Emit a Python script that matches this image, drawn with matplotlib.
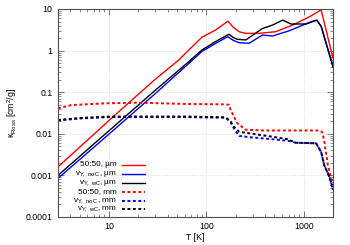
import matplotlib
matplotlib.use("Agg")
import matplotlib.pyplot as plt
from matplotlib.lines import Line2D
from matplotlib.ticker import FixedLocator, LogLocator, NullFormatter, FuncFormatter

plt.rcParams['font.family'] = ['Liberation Sans', 'DejaVu Sans']
plt.rcParams['mathtext.fontset'] = 'custom'
plt.rcParams['mathtext.rm'] = 'Liberation Sans'
plt.rcParams['mathtext.it'] = 'Liberation Sans:italic'
plt.rcParams['mathtext.bf'] = 'Liberation Sans:bold'

# ---- data ----
T_red_um = [3, 11.5, 30, 52, 66, 90, 124, 167, 190, 217, 254, 348, 518, 770, 1145, 1510, 2000]
k_red_um = [0.0016, 0.028, 0.206, 0.59, 1.03, 2.09, 3.1, 5.1, 3.6, 2.85, 2.6, 2.6, 2.85, 4.1, 6.5, 9.5, 0.66]

T_blue_um = [3, 10, 30, 66, 90, 124, 166, 190, 217, 275, 377, 478, 711, 1190, 1362, 1514, 2000]
k_blue_um = [0.00085, 0.0098, 0.093, 0.49, 0.95, 1.48, 2.16, 1.75, 1.55, 1.5, 2.37, 2.24, 3.0, 4.95, 5.4, 3.8, 0.41]

T_black_um = [3, 10, 30, 66, 90, 124, 171, 190, 208, 254, 377, 478, 607, 741, 1059, 1362, 1514, 2000]
k_black_um = [0.001, 0.0118, 0.112, 0.54, 1.03, 1.64, 2.47, 2.05, 1.87, 1.8, 3.4, 4.1, 5.4, 4.36, 4.36, 5.4, 3.8, 0.41]

T_red_mm = [3, 4.1, 9.1, 20, 66, 150, 171, 178, 192, 208, 254, 400, 1000, 1450, 1550, 1620, 1770, 1900, 2000]
k_red_mm = [0.041, 0.049, 0.054, 0.056, 0.052, 0.051, 0.05, 0.037, 0.026, 0.018, 0.0125, 0.012, 0.012, 0.012, 0.011, 0.0071, 0.0018, 0.0009, 0.0006]

T_blue_mm = [3, 5, 10, 60, 158, 178, 192, 217, 275, 478, 684, 832, 1343, 1514, 1620, 1841, 2000]
k_blue_mm = [0.0209, 0.0233, 0.0252, 0.0252, 0.0243, 0.019, 0.0135, 0.0089, 0.0083, 0.0074, 0.0068, 0.0061, 0.0059, 0.0036, 0.0018, 0.00091, 0.00045]

T_black_mm = [3, 5, 10, 60, 158, 178, 192, 217, 275, 478, 684, 832, 1343, 1514, 1620, 1841, 2000]
k_black_mm = [0.0215, 0.024, 0.026, 0.026, 0.025, 0.0195, 0.0148, 0.0112, 0.0103, 0.0085, 0.0074, 0.0061, 0.0059, 0.0036, 0.0018, 0.00091, 0.00045]

labels = ["50:50, µm",
          r"v$_{\rm Y,\ no\ C}$, µm",
          r"v$_{\rm Y,\ wC}$, µm",
          "50:50, mm",
          r"v$_{\rm Y,\ no\ C}$, mm",
          r"v$_{\rm Y,\ wC}$, mm"]

xticks = [10, 100, 1000]
yticks = [0.0001, 0.001, 0.01, 0.1, 1, 10]
ytick_labels = ["0.0001", "0.001", "0.01", "0.1", "1", "10"]

# ---- figure ----
fig = plt.figure(figsize=(3.5, 2.45), dpi=100)
ax = fig.add_axes([58/350, 1-217/245, (333-58)/350, (217-9)/245])

dash = (0, (1.5, 1.3))
series = [
    (T_red_um, k_red_um, 'red', '-', 1.0),
    (T_blue_um, k_blue_um, 'blue', '-', 1.0),
    (T_black_um, k_black_um, 'black', '-', 1.0),
    (T_red_mm, k_red_mm, 'red', dash, 1.4),
    (T_blue_mm, k_blue_mm, 'blue', dash, 1.4),
    (T_black_mm, k_black_mm, 'black', dash, 1.4),
]
for (T, k, c, ls, lw) in series:
    ax.plot(T, k, color=c, linestyle=ls, linewidth=lw)

ax.set_xscale('log')
ax.set_yscale('log')
ax.set_xlim(3, 2000)
ax.set_ylim(0.0001, 10)

ax.xaxis.set_major_locator(FixedLocator(xticks))
ax.xaxis.set_major_formatter(FuncFormatter(lambda v, p: "%g" % v))
ax.xaxis.set_minor_locator(LogLocator(base=10, subs=range(2, 10), numticks=20))
ax.xaxis.set_minor_formatter(NullFormatter())
ax.yaxis.set_major_locator(FixedLocator(yticks))
ax.set_yticklabels(ytick_labels)
ax.yaxis.set_minor_locator(LogLocator(base=10, subs=range(2, 10), numticks=20))
ax.yaxis.set_minor_formatter(NullFormatter())

ax.tick_params(which='both', direction='in', top=True, right=True, colors='#606060',
               labelcolor='black', labelsize=6.3)
ax.tick_params(which='major', length=4, width=0.6, pad=4)
ax.tick_params(axis='x', which='major', pad=3.5)
ax.tick_params(which='minor', length=2, width=0.5)
for s in ax.spines.values():
    s.set_color('#505050')
    s.set_linewidth(0.8)

ax.grid(True, which='major', color='#d8d8d8', linestyle=(0, (2, 2)), linewidth=0.5)
ax.set_axisbelow(True)

ax.set_xlabel("T [K]", fontsize=6.3, labelpad=1.5)
ax.set_ylabel(r"κ$_{\rm Ross}$ [cm$^2$/g]", fontsize=6.3, labelpad=5)

# legend drawn manually (right-aligned text, line sample to the right)
ys = [0.25, 0.207, 0.165, 0.122, 0.079, 0.037]
for (T, k, c, ls, lw), lab, y in zip(series, labels, ys):
    ax.text(0.2145, y, lab, transform=ax.transAxes, ha='right', va='center', fontsize=5.9)
    ax.add_line(Line2D([0.2316, 0.316], [y, y], transform=ax.transAxes,
                       color=c, linestyle=ls, linewidth=lw))

fig.savefig("out.png", dpi=100)
